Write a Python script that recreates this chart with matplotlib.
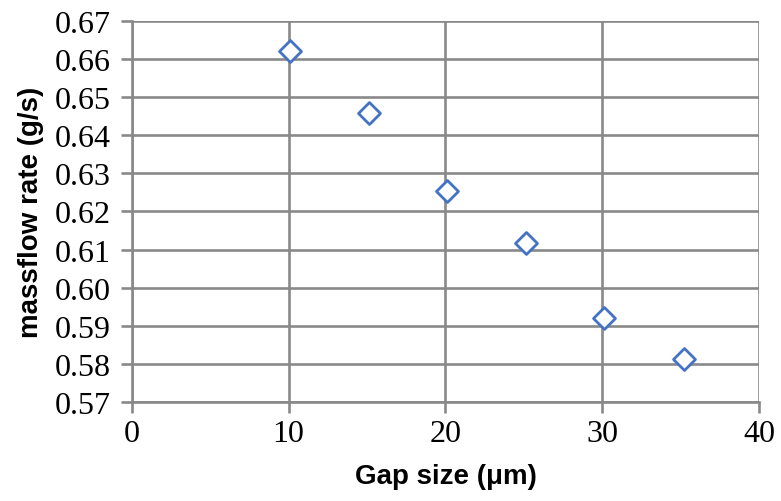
import matplotlib
matplotlib.use("Agg")
import matplotlib.pyplot as plt
from matplotlib.ticker import MultipleLocator, FormatStrFormatter

# data
gap_size = [10.1, 15.1, 20.1, 25.1, 30.1, 35.2]
massflow = [0.662, 0.6458, 0.6255, 0.6117, 0.5921, 0.5813]

grid_col = "#898989"
marker_col = "#4472C4"

fig = plt.figure(figsize=(7.81, 5.02), dpi=100)
ax = fig.add_axes([0.1686, 0.1966, 0.9722 - 0.1686, 0.9568 - 0.1966])

ax.scatter(gap_size, massflow, marker="D", s=125, facecolors="white",
           edgecolors=marker_col, linewidths=2.0, zorder=3)

ax.set_xlim(0, 40)
ax.set_ylim(0.57, 0.67)
ax.xaxis.set_major_locator(MultipleLocator(10))
ax.yaxis.set_major_locator(MultipleLocator(0.01))
ax.yaxis.set_major_formatter(FormatStrFormatter("%.2f"))

ax.grid(True, color=grid_col, linewidth=1.9)
ax.set_axisbelow(True)
for side in ax.spines:
    ax.spines[side].set_visible(False)
ax.spines["left"].set_visible(True)
ax.spines["bottom"].set_visible(True)
ax.spines["left"].set_color(grid_col)
ax.spines["bottom"].set_color(grid_col)
ax.spines["left"].set_linewidth(1.9)
ax.spines["bottom"].set_linewidth(1.9)

ax.tick_params(axis="both", direction="out", length=8, width=1.9,
               color=grid_col, labelsize=23)
ax.tick_params(axis="y", pad=7)
ax.tick_params(axis="x", pad=4)
for lab in ax.get_xticklabels() + ax.get_yticklabels():
    lab.set_fontfamily("Liberation Serif")

ax.set_xlabel("Gap size (μm)", fontsize=20, fontweight="bold",
              family="Liberation Sans", labelpad=11)
ax.set_ylabel("massflow rate (g/s)", fontsize=20, fontweight="bold",
              family="Liberation Sans", labelpad=8)

fig.savefig("out.png", dpi=100)
